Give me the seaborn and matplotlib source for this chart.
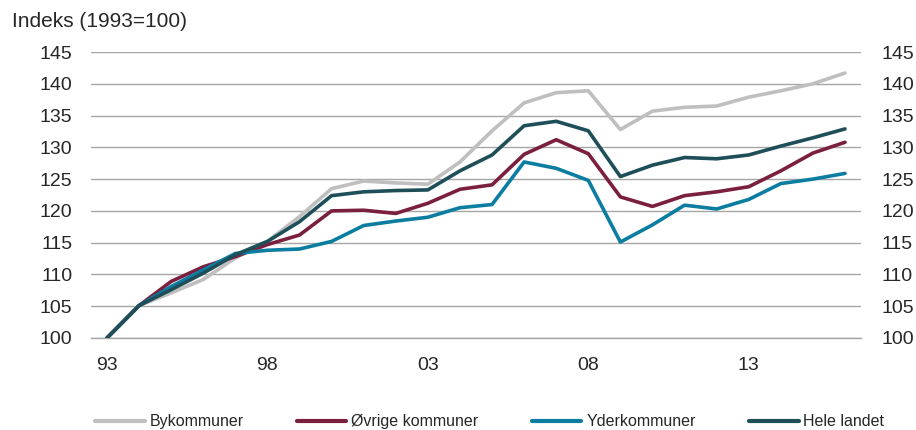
import matplotlib
matplotlib.use("Agg")
import matplotlib.pyplot as plt
import numpy as np
import pandas as pd
import seaborn as sns

years = list(range(1993, 2017))
tick_labels = ["93", "98", "03", "08", "13"]

bykommuner = [100, 105.1, 107.1, 109.2, 112.6, 115.2, 119.1, 123.5, 124.7, 124.4,
              124.2, 127.7, 132.6, 137.0, 138.6, 138.9, 132.8, 135.7, 136.3, 136.5,
              137.9, 138.9, 140.0, 141.7]
ovrige = [100, 105.1, 108.9, 111.2, 112.8, 114.7, 116.2, 120.0, 120.1, 119.6,
          121.2, 123.4, 124.1, 128.9, 131.2, 129.0, 122.2, 120.7, 122.4, 123.0,
          123.8, 126.3, 129.1, 130.8]
yderkommuner = [100, 105.1, 108.1, 110.7, 113.3, 113.8, 114.0, 115.2, 117.7, 118.4,
                119.0, 120.5, 121.0, 127.7, 126.7, 124.8, 115.1, 117.8, 120.9, 120.3,
                121.8, 124.3, 125.0, 125.9]
hele_landet = [100, 105.1, 107.6, 110.2, 113.1, 115.2, 118.3, 122.4, 123.0, 123.2,
               123.3, 126.3, 128.8, 133.4, 134.1, 132.6, 125.4, 127.2, 128.4, 128.2,
               128.8, 130.2, 131.5, 132.9]

series = {
    "Bykommuner": bykommuner,
    "Øvrige kommuner": ovrige,
    "Yderkommuner": yderkommuner,
    "Hele landet": hele_landet,
}
colors = ["#BFBFBF", "#7A1F3D", "#0B7DA1", "#1E4F58"]

rows = []
for name, vals in series.items():
    for i, v in enumerate(vals):
        rows.append({"pos": i, "year": years[i], "serie": name, "indeks": v})
df = pd.DataFrame(rows)

sns.set_style("white")
plt.rcParams["font.family"] = ["Liberation Sans", "DejaVu Sans"]

fig = plt.figure(figsize=(9.16, 4.30), dpi=100)
ax = fig.add_axes([0.0993, 0.214, 0.8407, 0.665])

sns.lineplot(data=df, x="pos", y="indeks", hue="serie", palette=colors,
             linewidth=2.6, ax=ax, legend=False, zorder=3)

ax.set_xlim(-0.5, len(years) - 0.5)
ax.set_ylim(100, 145)
yt = np.arange(100, 146, 5)
ax.set_yticks(yt)
ax.set_yticklabels([str(v) for v in yt], fontsize=14)
ax.yaxis.grid(True, color="#A6A6A6", linewidth=1)
ax.set_axisbelow(True)
for s in ["top", "left", "right"]:
    ax.spines[s].set_visible(False)
ax.spines["bottom"].set_color("#A6A6A6")
ax.spines["bottom"].set_linewidth(1)
ax.tick_params(axis="y", length=0, pad=13.5)

# category boundaries as tick marks, labels every 5 years
ax.set_xticks(np.arange(-0.5, len(years), 1.0))
ax.set_xticklabels([])
ax.tick_params(axis="x", which="major", direction="out", length=5, color="#A6A6A6")
ax.set_xticks([0, 5, 10, 15, 20], minor=True)
ax.set_xticklabels(tick_labels, minor=True, fontsize=14)
ax.tick_params(axis="x", which="minor", length=0, pad=14)
ax.set_xlabel("")
ax.set_ylabel("")

ax2 = ax.twinx()
ax2.set_ylim(ax.get_ylim())
ax2.set_yticks(yt)
ax2.set_yticklabels([str(v) for v in yt], fontsize=14)
ax2.tick_params(axis="y", length=0, pad=15)
for s in ax2.spines.values():
    s.set_visible(False)

fig.text(0.013, 0.95, "Indeks (1993=100)", fontsize=15, ha="left", va="center")

handles = [plt.Line2D([], [], color=c, linewidth=3) for c in colors]
fig.legend(handles, list(series.keys()), loc="center left",
           bbox_to_anchor=(95 / 916, 0.019), ncol=4, frameon=False, fontsize=11.5,
           handlelength=3.1, handletextpad=0.3, columnspacing=3.35,
           borderpad=0, borderaxespad=0)

fig.savefig("out.png", dpi=100)
